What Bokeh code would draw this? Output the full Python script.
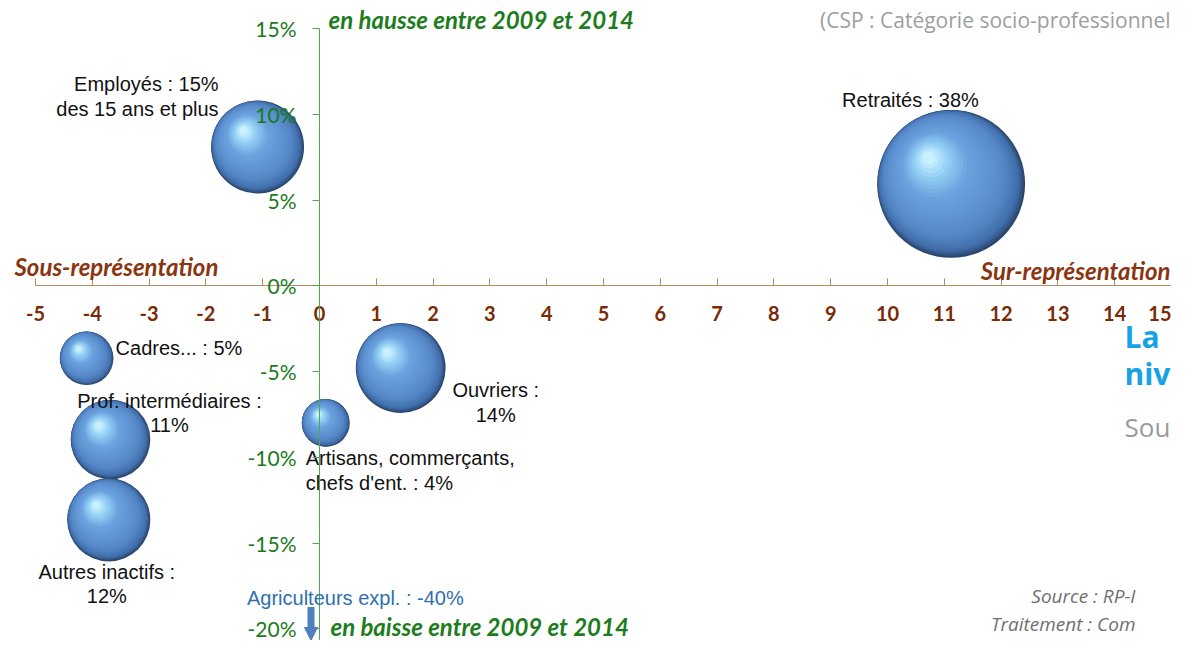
import numpy as np
from bokeh.plotting import figure
from bokeh.models import (ColumnDataSource, Range1d, LinearAxis, FixedTicker,
                          PrintfTickFormatter, Arrow, NormalHead, Label)
from bokeh.core.properties import value
from bokeh.embed import file_html
from bokeh.resources import INLINE

# ---------------- data ----------------
categories = ["Employés", "Retraités", "Cadres...", "Ouvriers",
              "Prof. intermédiaires", "Artisans, commerçants, chefs d'ent.",
              "Autres inactifs"]
# x : sur/sous-représentation (points)
representation = [-1.09, 11.12, -4.10, 1.43, -3.68, 0.11, -3.71]
# y : évolution 2009-2014 (%)
evolution = [8.1, 5.95, -4.22, -4.79, -8.96, -7.99, -13.64]
# part dans la population des 15 ans et plus (%)
share = [15, 38, 5, 14, 11, 4, 12]
labels = ["Employés : 15%\ndes 15 ans et plus", "Retraités : 38%", "Cadres... : 5%",
          "Ouvriers :\n14%", "Prof. intermédiaires :\n11%",
          "Artisans, commerçants,\nchefs d'ent. : 4%", "Autres inactifs :\n12%"]

agri_label = "Agriculteurs expl. : -40%"
agri_repr = -0.15
agri_evol = -40

x_ticks = list(range(-5, 16))
y_ticks = [-20, -15, -10, -5, 0, 5, 10, 15]

# ---------------- layout helpers (reference pixels -> data) ----------------
W, H = 1171, 640
X0PX, XS = 319.0, 56.8          # px of x=0, px per unit
KY = 0.9788                     # vertical squeeze so the bottom fits
Y0PX = 27 + (291 - 27) * KY     # px of y=0
YS = 17.52 * KY                 # px per %


def px2x(px):
    return (px - X0PX) / XS


def fy(py):                      # reference y px -> figure y px
    return 27 + (py - 27) * KY


def py2y(py):
    return (Y0PX - fy(py)) / YS


def fig2y(fpy):                  # figure y px -> data
    return (Y0PX - fpy) / YS


p = figure(width=W, height=H, output_backend="svg", toolbar_location=None,
           x_axis_type=None, y_axis_type=None,
           x_range=Range1d(px2x(0), px2x(W)),
           y_range=Range1d(fig2y(H), fig2y(0)),
           min_border=0, outline_line_color=None,
           background_fill_color="white", border_fill_color="white")

# ---------------- axes through the origin ----------------
xaxis = LinearAxis(fixed_location=0, ticker=FixedTicker(ticks=x_ticks), bounds=(-5, 15),
                   formatter=PrintfTickFormatter(format="%d"),
                   axis_line_color="#b88a66", major_tick_line_color="#b88a66",
                   major_tick_in=7, major_tick_out=0, minor_tick_line_color=None,
                   major_label_text_color="#7a2a06", major_label_text_font="Lato",
                   major_label_text_font_style="bold",
                   major_label_text_font_size="20px", major_label_standoff=20)
p.add_layout(xaxis, "below")

yaxis = LinearAxis(fixed_location=0, ticker=FixedTicker(ticks=y_ticks),
                   bounds=(fig2y(H), 15), formatter=PrintfTickFormatter(format="%d%%"),
                   axis_line_color="#4ea84e", major_tick_line_color="#4ea84e",
                   major_tick_in=0, major_tick_out=7, minor_tick_line_color=None,
                   major_label_text_color="#1a7a1a", major_label_text_font="Lato",
                   major_label_text_font_size="21px", major_label_standoff=16)
p.add_layout(yaxis, "left")

# ---------------- shaded spheres ----------------
stops_t = [0.0, 0.1, 0.3, 0.7, 0.88, 1.0]
stops_c = [(0x2b, 0x47, 0x6e), (0x41, 0x6e, 0xab), (0x55, 0x87, 0xc7),
           (0x6c, 0xa2, 0xdf), (0x94, 0xd0, 0xf5), (0xc8, 0xf0, 0xff)]


def col(t):
    for i in range(len(stops_t) - 1):
        if t <= stops_t[i + 1]:
            f = (t - stops_t[i]) / (stops_t[i + 1] - stops_t[i])
            c = [a + (b - a) * f for a, b in zip(stops_c[i], stops_c[i + 1])]
            return "#%02x%02x%02x" % tuple(int(round(v)) for v in c)
    return "#%02x%02x%02x" % stops_c[-1]


N = 30
bx, by, bs, bc = [], [], [], []
for xv, yv, sv in zip(representation, evolution, share):
    r = 12.0 * np.sqrt(sv)          # bubble area proportional to share
    for k in range(N):
        t = k / (N - 1)
        f = 1 - 0.461 * t - 0.45 * t * t
        dxp = -0.30 * r * t
        dyp = -0.35 * r * t
        bx.append(xv + dxp / XS)
        by.append(yv - dyp / YS)
        bs.append(2 * r * f)
        bc.append(col(t))

p.scatter(x="x", y="y", size="s", fill_color="c", line_color=None, marker="circle",
          source=ColumnDataSource(dict(x=bx, y=by, s=bs, c=bc)))

# ---------------- bubble labels ----------------
lab_dx = [-39, -109, 29, 95, 59, -20, -2]
lab_dy = [-74, -95, -21, 11, -50, 24, 41]
lab_align = ["right", "left", "left", "center", "center", "left", "center"]
p.text(x="x", y="y", text="t", x_offset="dx", y_offset="dy", text_align="a",
       source=ColumnDataSource(dict(x=representation, y=evolution, t=labels,
                                    dx=lab_dx, dy=lab_dy, a=lab_align)),
       text_baseline="top", text_font=value("Liberation Sans"), text_font_size="20px",
       text_line_height=1.12, text_color="#111111")

# ---------------- Agriculteurs (hors champ) ----------------
p.add_layout(Arrow(x_start=agri_repr, y_start=py2y(619), x_end=agri_repr, y_end=fig2y(640),
                   line_width=7, line_color="#4f81bd",
                   end=NormalHead(size=13, fill_color="#4f81bd", line_color="#4f81bd")))
p.add_layout(Label(x=agri_repr, y=py2y(610), x_offset=-64, text=agri_label,
                   text_font="Liberation Sans", text_font_size="20px",
                   text_color="#2f6fb0", text_baseline="middle", text_align="left"))

# ---------------- annotations ----------------
def lab(px, py, text, font, size, color, style="normal", align="left"):
    p.add_layout(Label(x=px2x(px), y=py2y(py), text=text, text_font=font,
                       text_font_size=size, text_color=color, text_font_style=style,
                       text_align=align, text_baseline="middle"))


green = "#1d7d1d"
brown = "#8a3410"
lab(328, 19, "en hausse entre 2009 et 2014", "Lato", "24px", green, "bold italic")
lab(330, 639, "en baisse entre 2009 et 2014", "Lato", "24px", green, "bold italic")
lab(14, 271, "Sous-représentation", "Lato", "24px", brown, "bold italic")
lab(1170, 275, "Sur-représentation", "Lato", "24px", brown, "bold italic", "right")
lab(1170, 19, "(CSP : Catégorie socio-professionnel", "Open Sans", "21px", "#9e9e9e",
    "normal", "right")
lab(1124, 343, "La", "Open Sans", "30px", "#17a2e6", "bold")
lab(1124, 380, "niv", "Open Sans", "30px", "#17a2e6", "bold")
lab(1124, 435, "Sou", "Open Sans", "26px", "#9a9a9a")
lab(1135, 608, "Source : RP-I", "Open Sans", "19px", "#707070", "italic", "right")
lab(1135, 636, "Traitement : Com", "Open Sans", "19px", "#707070", "italic", "right")

open("out.html", "w").write(file_html(p, INLINE))
